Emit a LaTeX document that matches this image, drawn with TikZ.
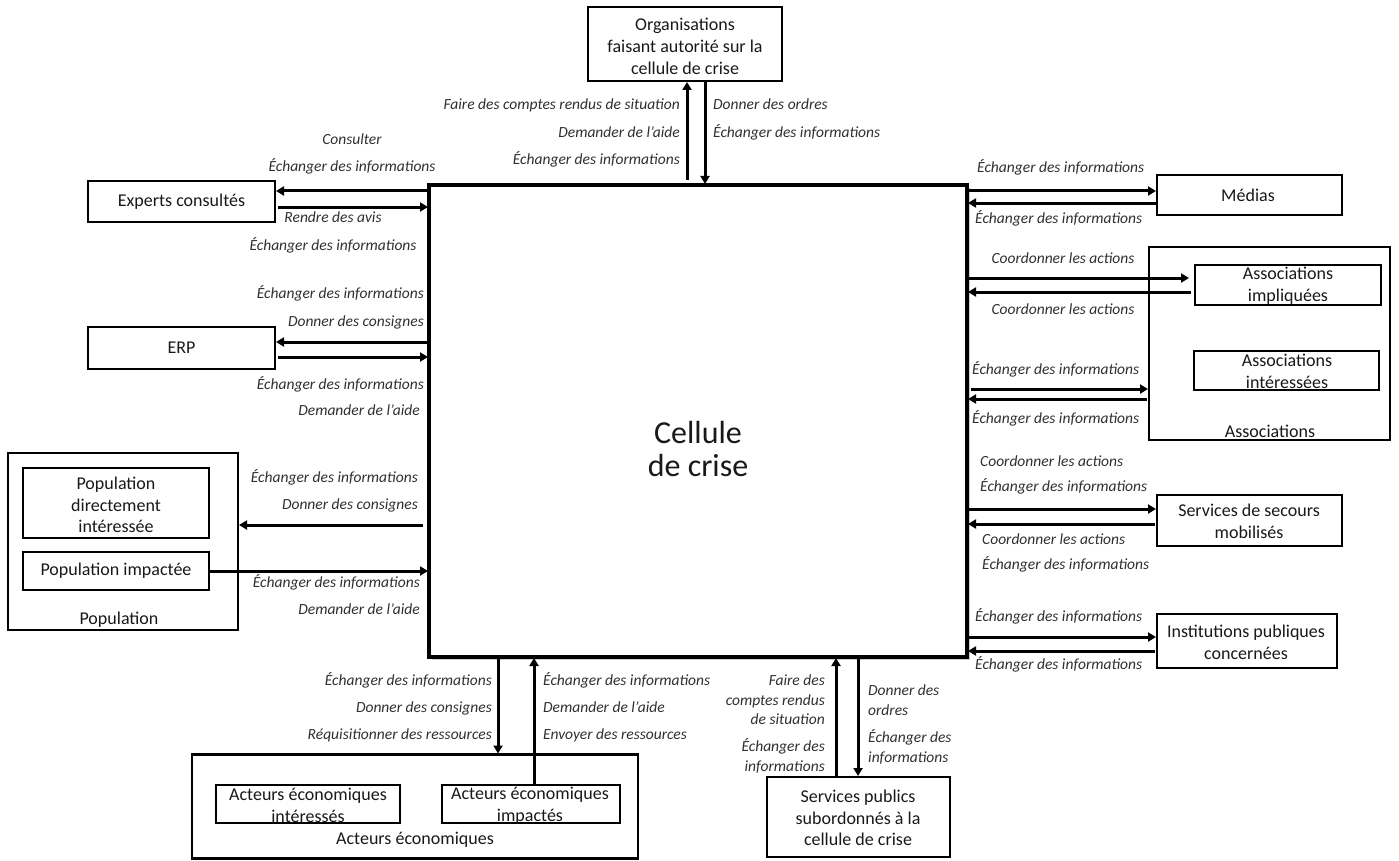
\documentclass[tikz,border=0pt]{standalone}
\usepackage{fontspec}
\setmainfont{Carlito}
\usetikzlibrary{arrows.meta}
\newcommand\labfont{\fontsize{15.5}{19.5}\selectfont\itshape}
\newcommand\boxfont{\fontsize{18}{21.7}\selectfont}
\newcommand\bigfont{\fontsize{32}{33}\selectfont}
\definecolor{labgray}{HTML}{303030}
\tikzset{
  frame/.style={draw, line width=2.4pt, inner sep=0pt, outer sep=0pt},
  btext/.style={font=\boxfont, align=center, inner sep=0pt, text=black!90},
  lab/.style={font=\labfont, inner sep=0pt, text=labgray},
  arr/.style={line width=3pt, -{Triangle[length=8pt,width=9pt]}, shorten >=1pt},
}
\begin{document}
\begin{tikzpicture}[x=1pt,y=-1pt]
\path[use as bounding box, fill=white] (0,0) rectangle (1399,861);

% main box
\fill[gray!40] (432,188) rectangle (970,660);
\node[draw, line width=4pt, fill=white, inner sep=0pt, outer sep=0pt, minimum width=538pt, minimum height=472pt] (cell) at (698,421) {};
\node[font=\bigfont, align=center, inner sep=0pt, text=black!90] (celltext) at (698,449) {Cellule\\de crise};

% boxes
\node[frame, minimum width=194pt, minimum height=74pt] (org) at (685,44) {};
\node[btext] (orgtext) at (685,46.5) {Organisations\\faisant autorité sur la\\cellule de crise};

\node[frame, minimum width=187pt, minimum height=41pt] (experts) at (181.5,201.5) {};
\node[btext] (expertstext) at (181.5,202) {Experts consultés};

\node[frame, minimum width=187pt, minimum height=42pt] (erp) at (181.5,348) {};
\node[btext] (erptext) at (181.5,348) {ERP};

\node[frame, minimum width=230pt, minimum height=177pt] (pop) at (123,541.5) {};
\node[frame, minimum width=186pt, minimum height=70pt] (popdir) at (116,503) {};
\node[btext] (popdirtext) at (116,505) {Population\\directement\\intéressée};
\node[frame, minimum width=186pt, minimum height=38pt] (popimp) at (116,571) {};
\node[btext] (popimptext) at (116,571) {Population impactée};
\node[btext] (poptext) at (119,620) {Population};

\node[frame, minimum width=185pt, minimum height=40pt] (medias) at (1249.5,195) {};
\node[btext] (mediastext) at (1248,195) {Médias};

\node[frame, minimum width=241pt, minimum height=193pt] (assoc) at (1269.5,343.5) {};
\node[frame, minimum width=186pt, minimum height=40pt] (assimp) at (1288,285) {};
\node[btext] (assimptext) at (1288,286) {Associations\\impliquées};
\node[frame, minimum width=185pt, minimum height=39pt] (assint) at (1286.5,370.5) {};
\node[btext] (assinttext) at (1287,371) {Associations\\intéressées};
\node[btext] (assoctext) at (1270,431) {Associations};

\node[frame, minimum width=185pt, minimum height=51pt] (secours) at (1249.5,520.5) {};
\node[btext] (secourstext) at (1249,521) {Services de secours\\mobilisés};

\node[frame, minimum width=180pt, minimum height=54pt] (instit) at (1247,641) {};
\node[btext] (instittext) at (1246,642) {Institutions publiques\\concernées};

\node[frame, minimum width=446pt, minimum height=104pt] (acteurs) at (415,806.5) {};
\node[frame, minimum width=184pt, minimum height=38pt] (actint) at (308,804) {};
\node[btext] (actinttext) at (308,805.5) {Acteurs économiques\\intéressés};
\node[frame, minimum width=178pt, minimum height=38pt] (actimp) at (531,804) {};
\node[btext] (actimptext) at (530,805.5) {Acteurs économiques\\impactés};
\node[btext] (acteurstext) at (415,840) {Acteurs économiques};

\node[frame, minimum width=183pt, minimum height=80pt] (sp) at (858.5,817) {};
\node[btext] (sptext) at (858,818) {Services publics\\subordonnés à la\\cellule de crise};

% arrows: top
\draw[arr, shorten <=5pt] (cell.north -| 687,0) -- (org.south -| 687,0);
\draw[arr] (org.south -| 705,0) -- (cell.north -| 705,0);
% experts
\draw[arr] (cell.west |- 0,191) -- (experts.east |- 0,191);
\draw[arr, shorten <=3pt] (experts.east |- 0,207) -- (cell.west |- 0,207);
% erp
\draw[arr] (cell.west |- 0,342) -- (erp.east |- 0,342);
\draw[arr, shorten <=3pt] (erp.east |- 0,357) -- (cell.west |- 0,357);
% population
\draw[arr, shorten <=6pt] (cell.west |- 0,525) -- (pop.east |- 0,525);
\draw[arr] (popimp.east |- 0,571) -- (cell.west |- 0,571);
% medias
\draw[arr] (cell.east |- 0,191) -- (medias.west |- 0,191);
\draw[arr] (medias.west |- 0,203) -- (cell.east |- 0,203);
% associations impliquees
\draw[arr, shorten >=6pt] (cell.east |- 0,278) -- (assimp.west |- 0,278);
\draw[arr, shorten <=4pt] (assimp.west |- 0,292) -- (cell.east |- 0,292);
% associations
\draw[arr, shorten <=4pt] (cell.east |- 0,389) -- (assoc.west |- 0,389);
\draw[arr, shorten <=2pt] (assoc.west |- 0,399) -- (cell.east |- 0,399);
% secours
\draw[arr] (cell.east |- 0,509) -- (secours.west |- 0,509);
\draw[arr, shorten <=2pt] (secours.west |- 0,524) -- (cell.east |- 0,524);
% institutions
\draw[arr] (cell.east |- 0,637) -- (instit.west |- 0,637);
\draw[arr, shorten <=2pt] (instit.west |- 0,651) -- (cell.east |- 0,651);
% acteurs
\draw[arr] (cell.south -| 498,0) -- (acteurs.north -| 498,0);
\draw[arr] (actimp.north -| 534,0) -- (cell.south -| 534,0);
% services publics
\draw[arr] (sp.north -| 836,0) -- (cell.south -| 836,0);
\draw[arr] (cell.south -| 858,0) -- (sp.north -| 858,0);

% labels top
\node[lab, anchor=mid east] (l1) at (680,107) {Faire des comptes rendus de situation};
\node[lab, anchor=mid east] (l2) at (680,135) {Demander de l’aide};
\node[lab, anchor=mid east] (l3) at (680,162) {Échanger des informations};
\node[lab, anchor=mid west] (l4) at (713,107) {Donner des ordres};
\node[lab, anchor=mid west] (l5) at (713,135) {Échanger des informations};
% experts
\node[lab, anchor=mid] (l6) at (352,142) {Consulter};
\node[lab, anchor=mid] (l7) at (352,169) {Échanger des informations};
\node[lab, anchor=mid] (l8) at (333,220) {Rendre des avis};
\node[lab, anchor=mid] (l9) at (333,248) {Échanger des informations};
% erp
\node[lab, anchor=mid east] (l10) at (424,296) {Échanger des informations};
\node[lab, anchor=mid east] (l11) at (424,324) {Donner des consignes};
\node[lab, anchor=mid east] (l12) at (424,387) {Échanger des informations};
\node[lab, anchor=mid east] (l13) at (420,413) {Demander de l’aide};
% population
\node[lab, anchor=mid east] (l14) at (418,480) {Échanger des informations};
\node[lab, anchor=mid east] (l15) at (418,507) {Donner des consignes};
\node[lab, anchor=mid east] (l16) at (420,585) {Échanger des informations};
\node[lab, anchor=mid east] (l17) at (420,612) {Demander de l’aide};
% medias
\node[lab, anchor=mid west] (l18) at (977,170) {Échanger des informations};
\node[lab, anchor=mid west] (l19) at (975,221) {Échanger des informations};
% associations
\node[lab, anchor=mid] (l20) at (1063,261) {Coordonner les actions};
\node[lab, anchor=mid] (l21) at (1063,312) {Coordonner les actions};
\node[lab, anchor=mid west] (l22) at (972,372) {Échanger des informations};
\node[lab, anchor=mid west] (l23) at (972,421) {Échanger des informations};
% secours
\node[lab, anchor=mid west] (l24) at (980,464) {Coordonner les actions};
\node[lab, anchor=mid west] (l25) at (980,489) {Échanger des informations};
\node[lab, anchor=mid west] (l26) at (982,542) {Coordonner les actions};
\node[lab, anchor=mid west] (l27) at (982,567) {Échanger des informations};
% institutions
\node[lab, anchor=mid west] (l28) at (975,619) {Échanger des informations};
\node[lab, anchor=mid west] (l29) at (975,667) {Échanger des informations};
% acteurs
\node[lab, anchor=mid east] (l30) at (492,683) {Échanger des informations};
\node[lab, anchor=mid east] (l31) at (492,710) {Donner des consignes};
\node[lab, anchor=mid east] (l32) at (492,737) {Réquisitionner des ressources};
\node[lab, anchor=mid west] (l33) at (543,683) {Échanger des informations};
\node[lab, anchor=mid west] (l34) at (543,710) {Demander de l’aide};
\node[lab, anchor=mid west] (l35) at (543,737) {Envoyer des ressources};
% services publics
\node[lab, anchor=east, align=right] (l36) at (825,700) {Faire des\\comptes rendus\\de situation};
\node[lab, anchor=east, align=right] (l37) at (825,756) {Échanger des\\informations};
\node[lab, anchor=west, align=left] (l38) at (868,700) {Donner des\\ordres};
\node[lab, anchor=west, align=left] (l39) at (868,747) {Échanger des\\informations};
\end{tikzpicture}
\end{document}
